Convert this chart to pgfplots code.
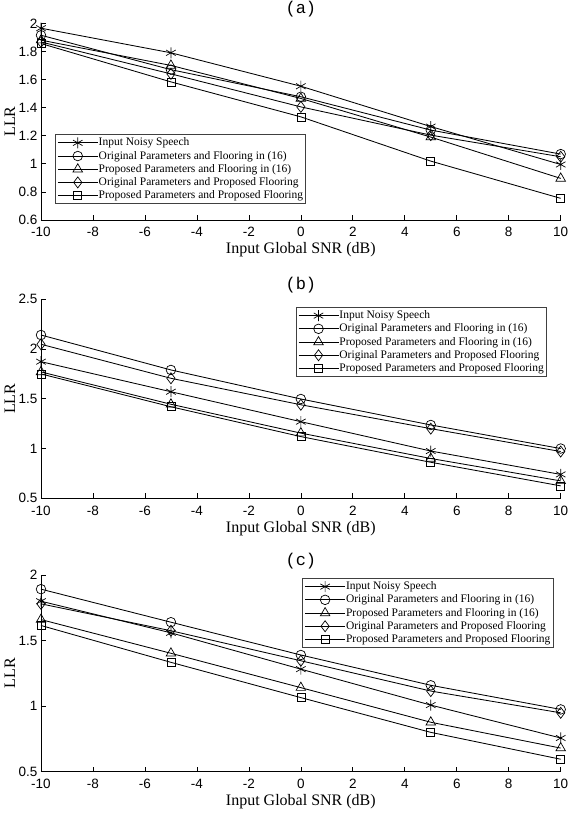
\documentclass[border=0pt]{standalone}
\usepackage{fontspec}
\setmainfont{Liberation Serif}
\newfontfamily\tickfont{Liberation Sans}
\newfontfamily\titlefont{Liberation Mono}
\usepackage{pgfplots}
\pgfplotsset{compat=1.18}

\pgfplotsset{
 llrstyle/.style={
  scale only axis, width=519.7pt,
  xmin=-10,xmax=10,
  clip=false,
  axis x line*=bottom, axis y line*=left,
  axis line style={line width=0.8pt},
  tick align=inside,
  major tick length=5pt,
  tick style={line width=0.7pt, black},
  xtick={-10,-8,...,10},
  tick label style={font=\fontsize{13.5}{15}\tickfont},
  xticklabel style={yshift=-4pt},
  /pgf/number format/assume math mode=true,
  xlabel={Input Global SNR (dB)}, ylabel={LLR},
  label style={font=\fontsize{16}{18}\selectfont},
  xlabel style={at={(axis description cs:0.5,0)}, anchor=center, yshift=-30pt},
  ylabel style={at={(axis description cs:0,0.5)}, anchor=center, yshift=31pt},
  title style={font=\fontsize{17}{19}\titlefont, at={(axis description cs:0.5,1)}, anchor=south, inner sep=0pt, yshift=0pt},
  every axis plot/.append style={black, line width=0.85pt, mark options={solid, line width=0.7pt}},
  legend cell align=left,
  legend image code/.code={\draw[mark repeat=2,mark phase=2] plot coordinates {(0pt,0pt)(20pt,0pt)(40pt,0pt)};},
  legend style={font=\fontsize{11.5}{13}\selectfont, draw=black!75, line width=0.7pt, inner sep=2pt, row sep=1.2pt, nodes={inner sep=0.5pt, text height=8.5pt, text depth=2.5pt}},
 },
 s1/.style={mark=asterisk, mark size=5.5pt},
 s2/.style={mark=o, mark size=4.8pt},
 s3/.style={mark=triangle, mark size=5.5pt},
 s4/.style={mark=diamond, mark size=5.5pt},
 s5/.style={mark=square, mark size=4pt},
}

\begin{document}
\begin{tikzpicture}
\useasboundingbox (0pt,0pt) rectangle (568pt,813pt);

% (a)
\begin{axis}[llrstyle, at={(41pt,593pt)}, anchor=south west, height=196.7pt,
  ymin=0.6, ymax=2, ytick={0.6,0.8,...,2.01}, title={(a)},
  legend style={at={(axis description cs:0,0)}, anchor=south west, xshift=14pt, yshift=16pt}]
\addplot[s1] coordinates {(-10,1.965) (-5,1.79) (0,1.552) (5,1.265) (10,0.995)};
\addlegendentry{Input Noisy Speech}
\addplot[s2] coordinates {(-10,1.915) (-5,1.67) (0,1.477) (5,1.24) (10,1.069)};
\addlegendentry{Original Parameters and Flooring in (16)}
\addplot[s3] coordinates {(-10,1.88) (-5,1.70) (0,1.465) (5,1.19) (10,0.896)};
\addlegendentry{Proposed Parameters and Flooring in (16)}
\addplot[s4] coordinates {(-10,1.867) (-5,1.64) (0,1.405) (5,1.204) (10,1.05)};
\addlegendentry{Original Parameters and Proposed Flooring}
\addplot[s5] coordinates {(-10,1.856) (-5,1.583) (0,1.334) (5,1.019) (10,0.754)};
\addlegendentry{Proposed Parameters and Proposed Flooring}
\end{axis}

% (b)
\begin{axis}[llrstyle, at={(41pt,314.7pt)}, anchor=south west, height=199pt,
  ymin=0.5, ymax=2.5, ytick={0.5,1,1.5,2,2.5}, title={(b)},
  legend style={at={(axis description cs:1,1)}, anchor=north east, xshift=-14pt, yshift=-8pt}]
\addplot[s1] coordinates {(-10,1.873) (-5,1.571) (0,1.27) (5,0.975) (10,0.74)};
\addlegendentry{Input Noisy Speech}
\addplot[s2] coordinates {(-10,2.141) (-5,1.79) (0,1.498) (5,1.237) (10,1.0)};
\addlegendentry{Original Parameters and Flooring in (16)}
\addplot[s3] coordinates {(-10,1.77) (-5,1.445) (0,1.155) (5,0.90) (10,0.675)};
\addlegendentry{Proposed Parameters and Flooring in (16)}
\addplot[s4] coordinates {(-10,2.048) (-5,1.706) (0,1.44) (5,1.20) (10,0.97)};
\addlegendentry{Original Parameters and Proposed Flooring}
\addplot[s5] coordinates {(-10,1.75) (-5,1.42) (0,1.12) (5,0.862) (10,0.625)};
\addlegendentry{Proposed Parameters and Proposed Flooring}
\end{axis}

% (c)
\begin{axis}[llrstyle, at={(41pt,41.3pt)}, anchor=south west, height=196.7pt,
  ymin=0.5, ymax=2, ytick={0.5,1,1.5,2}, title={(c)},
  legend style={at={(axis description cs:1,1)}, anchor=north east, xshift=-7.4pt, yshift=-3.3pt}]
\addplot[s1] coordinates {(-10,1.80) (-5,1.559) (0,1.282) (5,1.008) (10,0.757)};
\addlegendentry{Input Noisy Speech}
\addplot[s2] coordinates {(-10,1.892) (-5,1.64) (0,1.39) (5,1.159) (10,0.975)};
\addlegendentry{Original Parameters and Flooring in (16)}
\addplot[s3] coordinates {(-10,1.66) (-5,1.403) (0,1.141) (5,0.877) (10,0.68)};
\addlegendentry{Proposed Parameters and Flooring in (16)}
\addplot[s4] coordinates {(-10,1.78) (-5,1.575) (0,1.346) (5,1.115) (10,0.949)};
\addlegendentry{Original Parameters and Proposed Flooring}
\addplot[s5] coordinates {(-10,1.615) (-5,1.334) (0,1.065) (5,0.80) (10,0.595)};
\addlegendentry{Proposed Parameters and Proposed Flooring}
\end{axis}
\end{tikzpicture}
\end{document}
